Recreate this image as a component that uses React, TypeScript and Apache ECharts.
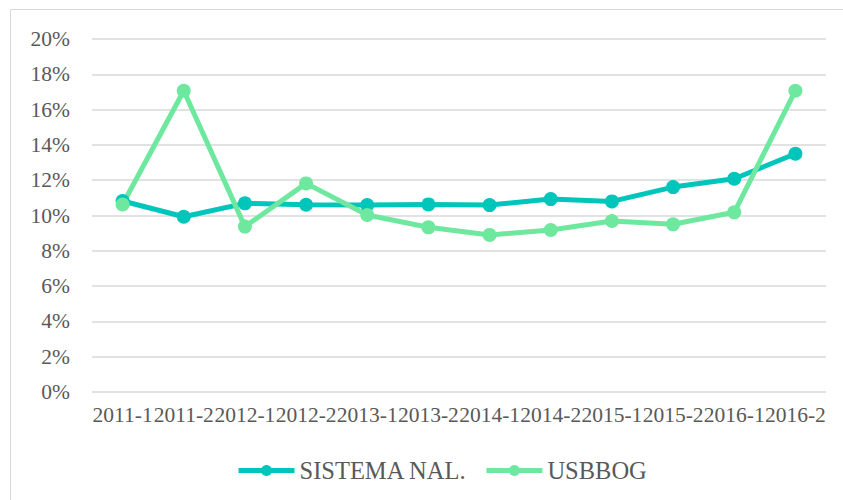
import React, { useEffect, useRef } from "react";
import * as echarts from "echarts";

const categories = ["2011-1", "2011-2", "2012-1", "2012-2", "2013-1", "2013-2", "2014-1", "2014-2", "2015-1", "2015-2", "2016-1", "2016-2"];
const sistemaNal = [0.1082, 0.0993, 0.1069, 0.1061, 0.1059, 0.1063, 0.1059, 0.1093, 0.108, 0.1161, 0.1208, 0.135];
const usbbog = [0.1062, 0.1707, 0.0937, 0.1182, 0.1003, 0.0933, 0.089, 0.0918, 0.0969, 0.095, 0.1018, 0.1707];
const yTicks = { min: 0, max: 0.2, interval: 0.02 };

const FONT = "Liberation Serif";
const TEXT = "#595959";

export default function App() {
  const ref = useRef<HTMLDivElement>(null);
  useEffect(() => {
    if (!ref.current) return;
    const chart = echarts.init(ref.current, undefined, { renderer: "svg" });
    chart.setOption({
      animation: false,
      backgroundColor: "#ffffff",
      textStyle: { fontFamily: FONT },
      graphic: [
        {
          type: "rect",
          shape: { x: 10.5, y: 9.5, width: 900, height: 600 },
          style: { fill: "none", stroke: "#d9d9d9", lineWidth: 1 },
          silent: true,
          z: -10,
        },
      ],
      grid: { left: 92, right: 17, top: 39, bottom: 108, containLabel: false },
      legend: {
        left: 231,
        top: 453,
        itemWidth: 56,
        itemHeight: 14,
        itemGap: 17,
        lineStyle: { width: 5 },
        textStyle: { fontFamily: FONT, fontSize: 24.5, color: TEXT },
        data: ["SISTEMA NAL.", "USBBOG"],
      },
      xAxis: {
        type: "category",
        data: categories,
        boundaryGap: true,
        axisLine: { show: false },
        axisTick: { show: false },
        axisLabel: { interval: 0, fontFamily: FONT, fontSize: 21.5, color: TEXT, margin: 12 },
      },
      yAxis: {
        type: "value",
        min: yTicks.min,
        max: yTicks.max,
        interval: yTicks.interval,
        axisLine: { show: false },
        axisTick: { show: false },
        splitLine: { lineStyle: { color: "#d9d9d9", width: 1.5 } },
        axisLabel: {
          fontFamily: FONT,
          fontSize: 21.5,
          color: TEXT,
          margin: 22,
          formatter: (v: number) => `${Math.round(v * 100)}%`,
        },
      },
      series: [
        {
          name: "SISTEMA NAL.",
          type: "line",
          data: sistemaNal,
          symbol: "circle",
          symbolSize: 14,
          itemStyle: { color: "#00C5BA" },
          lineStyle: { color: "#00C5BA", width: 5 },
        },
        {
          name: "USBBOG",
          type: "line",
          data: usbbog,
          symbol: "circle",
          symbolSize: 14,
          itemStyle: { color: "#6EE89F" },
          lineStyle: { color: "#6EE89F", width: 5 },
        },
      ],
    });
    return () => chart.dispose();
  }, []);
  return (
    <div
      ref={ref}
      style={{ position: "fixed", left: 0, top: 0, width: 843, height: 500, background: "#fff" }}
    />
  );
}
